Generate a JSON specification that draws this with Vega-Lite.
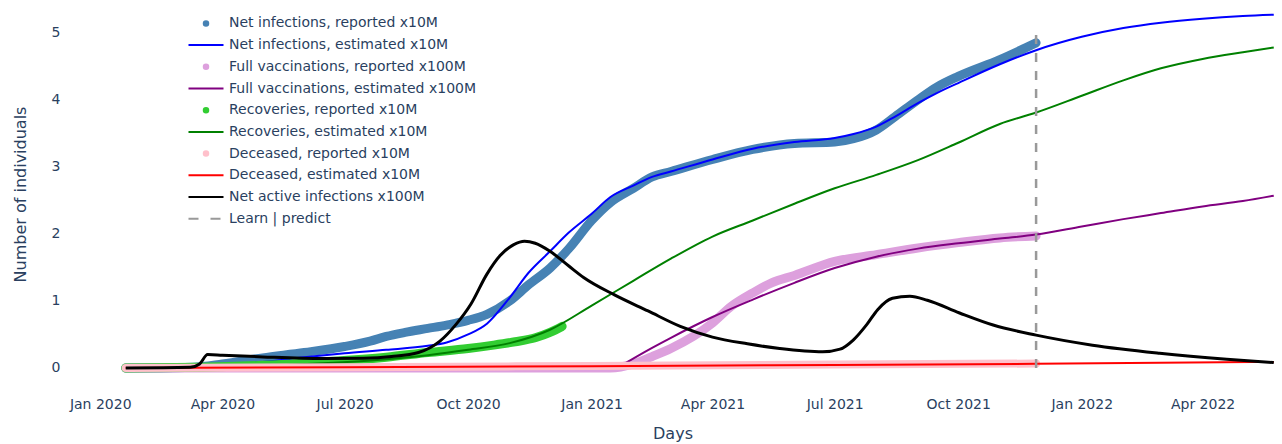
{
"$schema": "https://vega.github.io/schema/vega-lite/v6.json",
"width": 1209, "height": 368,
"autosize": {"type": "none"},
"padding": {"left": 68, "top": 10, "right": 5, "bottom": 66},
"background": "white",
"config": {"view": {"stroke": null}, "font": "DejaVu Sans"},
"data": {"values": [
{"s":"Net infections, reported x10M","d":"2020-01-20","v":0},
{"s":"Net infections, reported x10M","d":"2020-02-15","v":0},
{"s":"Net infections, reported x10M","d":"2020-03-10","v":0.01},
{"s":"Net infections, reported x10M","d":"2020-04-01","v":0.06},
{"s":"Net infections, reported x10M","d":"2020-05-01","v":0.15},
{"s":"Net infections, reported x10M","d":"2020-06-01","v":0.23},
{"s":"Net infections, reported x10M","d":"2020-07-01","v":0.32},
{"s":"Net infections, reported x10M","d":"2020-07-20","v":0.40},
{"s":"Net infections, reported x10M","d":"2020-08-01","v":0.47},
{"s":"Net infections, reported x10M","d":"2020-08-15","v":0.53},
{"s":"Net infections, reported x10M","d":"2020-09-01","v":0.59},
{"s":"Net infections, reported x10M","d":"2020-09-15","v":0.64},
{"s":"Net infections, reported x10M","d":"2020-10-01","v":0.71},
{"s":"Net infections, reported x10M","d":"2020-10-15","v":0.80},
{"s":"Net infections, reported x10M","d":"2020-11-01","v":1.0},
{"s":"Net infections, reported x10M","d":"2020-11-15","v":1.24},
{"s":"Net infections, reported x10M","d":"2020-12-01","v":1.49},
{"s":"Net infections, reported x10M","d":"2020-12-15","v":1.78},
{"s":"Net infections, reported x10M","d":"2021-01-01","v":2.2},
{"s":"Net infections, reported x10M","d":"2021-01-15","v":2.47},
{"s":"Net infections, reported x10M","d":"2021-02-01","v":2.68},
{"s":"Net infections, reported x10M","d":"2021-02-15","v":2.85},
{"s":"Net infections, reported x10M","d":"2021-03-01","v":2.93},
{"s":"Net infections, reported x10M","d":"2021-04-01","v":3.11},
{"s":"Net infections, reported x10M","d":"2021-05-01","v":3.26},
{"s":"Net infections, reported x10M","d":"2021-06-01","v":3.35},
{"s":"Net infections, reported x10M","d":"2021-07-01","v":3.37},
{"s":"Net infections, reported x10M","d":"2021-07-15","v":3.42},
{"s":"Net infections, reported x10M","d":"2021-08-01","v":3.55},
{"s":"Net infections, reported x10M","d":"2021-08-15","v":3.75},
{"s":"Net infections, reported x10M","d":"2021-09-01","v":4.0},
{"s":"Net infections, reported x10M","d":"2021-09-15","v":4.19},
{"s":"Net infections, reported x10M","d":"2021-10-01","v":4.35},
{"s":"Net infections, reported x10M","d":"2021-11-01","v":4.6},
{"s":"Net infections, reported x10M","d":"2021-11-28","v":4.85},
{"s":"Net infections, estimated x10M","d":"2020-01-20","v":0},
{"s":"Net infections, estimated x10M","d":"2020-03-01","v":0.01},
{"s":"Net infections, estimated x10M","d":"2020-04-01","v":0.05},
{"s":"Net infections, estimated x10M","d":"2020-05-01","v":0.09},
{"s":"Net infections, estimated x10M","d":"2020-06-01","v":0.16},
{"s":"Net infections, estimated x10M","d":"2020-07-01","v":0.22},
{"s":"Net infections, estimated x10M","d":"2020-08-01","v":0.27},
{"s":"Net infections, estimated x10M","d":"2020-09-01","v":0.33},
{"s":"Net infections, estimated x10M","d":"2020-09-15","v":0.38},
{"s":"Net infections, estimated x10M","d":"2020-10-01","v":0.5},
{"s":"Net infections, estimated x10M","d":"2020-10-15","v":0.66},
{"s":"Net infections, estimated x10M","d":"2020-11-01","v":1.05},
{"s":"Net infections, estimated x10M","d":"2020-11-15","v":1.42},
{"s":"Net infections, estimated x10M","d":"2020-12-01","v":1.74},
{"s":"Net infections, estimated x10M","d":"2020-12-15","v":2.02},
{"s":"Net infections, estimated x10M","d":"2021-01-01","v":2.3},
{"s":"Net infections, estimated x10M","d":"2021-01-15","v":2.55},
{"s":"Net infections, estimated x10M","d":"2021-02-01","v":2.72},
{"s":"Net infections, estimated x10M","d":"2021-02-15","v":2.85},
{"s":"Net infections, estimated x10M","d":"2021-03-01","v":2.93},
{"s":"Net infections, estimated x10M","d":"2021-04-01","v":3.11},
{"s":"Net infections, estimated x10M","d":"2021-05-01","v":3.27},
{"s":"Net infections, estimated x10M","d":"2021-06-01","v":3.37},
{"s":"Net infections, estimated x10M","d":"2021-07-01","v":3.43},
{"s":"Net infections, estimated x10M","d":"2021-07-15","v":3.49},
{"s":"Net infections, estimated x10M","d":"2021-08-01","v":3.6},
{"s":"Net infections, estimated x10M","d":"2021-08-15","v":3.75},
{"s":"Net infections, estimated x10M","d":"2021-09-01","v":3.95},
{"s":"Net infections, estimated x10M","d":"2021-09-15","v":4.1},
{"s":"Net infections, estimated x10M","d":"2021-10-01","v":4.25},
{"s":"Net infections, estimated x10M","d":"2021-11-01","v":4.53},
{"s":"Net infections, estimated x10M","d":"2021-11-28","v":4.74},
{"s":"Net infections, estimated x10M","d":"2022-01-01","v":4.94},
{"s":"Net infections, estimated x10M","d":"2022-02-01","v":5.07},
{"s":"Net infections, estimated x10M","d":"2022-03-01","v":5.15},
{"s":"Net infections, estimated x10M","d":"2022-04-01","v":5.21},
{"s":"Net infections, estimated x10M","d":"2022-05-01","v":5.25},
{"s":"Net infections, estimated x10M","d":"2022-05-24","v":5.27},
{"s":"Full vaccinations, reported x100M","d":"2020-01-20","v":0},
{"s":"Full vaccinations, reported x100M","d":"2020-12-15","v":0},
{"s":"Full vaccinations, reported x100M","d":"2021-01-15","v":0.0},
{"s":"Full vaccinations, reported x100M","d":"2021-02-01","v":0.06},
{"s":"Full vaccinations, reported x100M","d":"2021-02-15","v":0.17},
{"s":"Full vaccinations, reported x100M","d":"2021-03-01","v":0.29},
{"s":"Full vaccinations, reported x100M","d":"2021-04-01","v":0.67},
{"s":"Full vaccinations, reported x100M","d":"2021-04-15","v":0.92},
{"s":"Full vaccinations, reported x100M","d":"2021-05-01","v":1.12},
{"s":"Full vaccinations, reported x100M","d":"2021-05-15","v":1.27},
{"s":"Full vaccinations, reported x100M","d":"2021-06-01","v":1.38},
{"s":"Full vaccinations, reported x100M","d":"2021-07-01","v":1.59},
{"s":"Full vaccinations, reported x100M","d":"2021-08-01","v":1.69},
{"s":"Full vaccinations, reported x100M","d":"2021-09-01","v":1.79},
{"s":"Full vaccinations, reported x100M","d":"2021-10-01","v":1.87},
{"s":"Full vaccinations, reported x100M","d":"2021-11-01","v":1.94},
{"s":"Full vaccinations, reported x100M","d":"2021-11-28","v":1.97},
{"s":"Full vaccinations, estimated x100M","d":"2021-01-20","v":0},
{"s":"Full vaccinations, estimated x100M","d":"2021-02-15","v":0.3},
{"s":"Full vaccinations, estimated x100M","d":"2021-03-01","v":0.45},
{"s":"Full vaccinations, estimated x100M","d":"2021-04-01","v":0.76},
{"s":"Full vaccinations, estimated x100M","d":"2021-05-01","v":1.02},
{"s":"Full vaccinations, estimated x100M","d":"2021-06-01","v":1.27},
{"s":"Full vaccinations, estimated x100M","d":"2021-07-01","v":1.49},
{"s":"Full vaccinations, estimated x100M","d":"2021-08-01","v":1.66},
{"s":"Full vaccinations, estimated x100M","d":"2021-09-01","v":1.78},
{"s":"Full vaccinations, estimated x100M","d":"2021-10-01","v":1.86},
{"s":"Full vaccinations, estimated x100M","d":"2021-11-01","v":1.93},
{"s":"Full vaccinations, estimated x100M","d":"2021-11-28","v":1.99},
{"s":"Full vaccinations, estimated x100M","d":"2022-01-01","v":2.11},
{"s":"Full vaccinations, estimated x100M","d":"2022-02-01","v":2.22},
{"s":"Full vaccinations, estimated x100M","d":"2022-03-01","v":2.31},
{"s":"Full vaccinations, estimated x100M","d":"2022-04-01","v":2.41},
{"s":"Full vaccinations, estimated x100M","d":"2022-05-01","v":2.49},
{"s":"Full vaccinations, estimated x100M","d":"2022-05-24","v":2.57},
{"s":"Recoveries, reported x10M","d":"2020-01-20","v":0},
{"s":"Recoveries, reported x10M","d":"2020-03-15","v":0.01},
{"s":"Recoveries, reported x10M","d":"2020-05-01","v":0.04},
{"s":"Recoveries, reported x10M","d":"2020-06-15","v":0.09},
{"s":"Recoveries, reported x10M","d":"2020-08-01","v":0.16},
{"s":"Recoveries, reported x10M","d":"2020-09-01","v":0.23},
{"s":"Recoveries, reported x10M","d":"2020-10-01","v":0.29},
{"s":"Recoveries, reported x10M","d":"2020-10-20","v":0.34},
{"s":"Recoveries, reported x10M","d":"2020-11-05","v":0.39},
{"s":"Recoveries, reported x10M","d":"2020-11-20","v":0.45},
{"s":"Recoveries, reported x10M","d":"2020-12-01","v":0.53},
{"s":"Recoveries, reported x10M","d":"2020-12-10","v":0.62},
{"s":"Recoveries, estimated x10M","d":"2020-01-20","v":0},
{"s":"Recoveries, estimated x10M","d":"2020-03-15","v":0.01},
{"s":"Recoveries, estimated x10M","d":"2020-05-01","v":0.03},
{"s":"Recoveries, estimated x10M","d":"2020-06-15","v":0.07},
{"s":"Recoveries, estimated x10M","d":"2020-08-01","v":0.13},
{"s":"Recoveries, estimated x10M","d":"2020-09-01","v":0.19},
{"s":"Recoveries, estimated x10M","d":"2020-10-01","v":0.27},
{"s":"Recoveries, estimated x10M","d":"2020-11-01","v":0.37},
{"s":"Recoveries, estimated x10M","d":"2020-12-01","v":0.57},
{"s":"Recoveries, estimated x10M","d":"2021-01-01","v":0.93},
{"s":"Recoveries, estimated x10M","d":"2021-02-01","v":1.3},
{"s":"Recoveries, estimated x10M","d":"2021-03-01","v":1.63},
{"s":"Recoveries, estimated x10M","d":"2021-04-01","v":1.96},
{"s":"Recoveries, estimated x10M","d":"2021-05-01","v":2.2},
{"s":"Recoveries, estimated x10M","d":"2021-06-01","v":2.45},
{"s":"Recoveries, estimated x10M","d":"2021-07-01","v":2.68},
{"s":"Recoveries, estimated x10M","d":"2021-08-01","v":2.88},
{"s":"Recoveries, estimated x10M","d":"2021-09-01","v":3.1},
{"s":"Recoveries, estimated x10M","d":"2021-10-01","v":3.36},
{"s":"Recoveries, estimated x10M","d":"2021-11-01","v":3.64},
{"s":"Recoveries, estimated x10M","d":"2021-11-28","v":3.81},
{"s":"Recoveries, estimated x10M","d":"2022-01-01","v":4.06},
{"s":"Recoveries, estimated x10M","d":"2022-02-01","v":4.29},
{"s":"Recoveries, estimated x10M","d":"2022-03-01","v":4.47},
{"s":"Recoveries, estimated x10M","d":"2022-04-01","v":4.61},
{"s":"Recoveries, estimated x10M","d":"2022-05-01","v":4.71},
{"s":"Recoveries, estimated x10M","d":"2022-05-24","v":4.78},
{"s":"Deceased, reported x10M","d":"2020-01-20","v":0},
{"s":"Deceased, reported x10M","d":"2020-07-01","v":0.01},
{"s":"Deceased, reported x10M","d":"2021-01-01","v":0.03},
{"s":"Deceased, reported x10M","d":"2021-07-01","v":0.05},
{"s":"Deceased, reported x10M","d":"2021-11-28","v":0.066},
{"s":"Deceased, estimated x10M","d":"2020-01-20","v":0},
{"s":"Deceased, estimated x10M","d":"2020-07-01","v":0.01},
{"s":"Deceased, estimated x10M","d":"2021-01-01","v":0.025},
{"s":"Deceased, estimated x10M","d":"2021-07-01","v":0.045},
{"s":"Deceased, estimated x10M","d":"2021-11-28","v":0.062},
{"s":"Deceased, estimated x10M","d":"2022-05-24","v":0.09},
{"s":"Net active infections x100M","d":"2020-01-20","v":0},
{"s":"Net active infections x100M","d":"2020-03-08","v":0.01},
{"s":"Net active infections x100M","d":"2020-03-15","v":0.06},
{"s":"Net active infections x100M","d":"2020-03-21","v":0.2},
{"s":"Net active infections x100M","d":"2020-04-01","v":0.19},
{"s":"Net active infections x100M","d":"2020-05-01","v":0.165},
{"s":"Net active infections x100M","d":"2020-06-15","v":0.14},
{"s":"Net active infections x100M","d":"2020-07-15","v":0.145},
{"s":"Net active infections x100M","d":"2020-08-05","v":0.17},
{"s":"Net active infections x100M","d":"2020-08-25","v":0.23},
{"s":"Net active infections x100M","d":"2020-09-10","v":0.4},
{"s":"Net active infections x100M","d":"2020-09-22","v":0.65},
{"s":"Net active infections x100M","d":"2020-10-03","v":0.95},
{"s":"Net active infections x100M","d":"2020-10-15","v":1.4},
{"s":"Net active infections x100M","d":"2020-10-25","v":1.68},
{"s":"Net active infections x100M","d":"2020-11-04","v":1.84},
{"s":"Net active infections x100M","d":"2020-11-12","v":1.89},
{"s":"Net active infections x100M","d":"2020-11-20","v":1.86},
{"s":"Net active infections x100M","d":"2020-12-01","v":1.74},
{"s":"Net active infections x100M","d":"2020-12-15","v":1.52},
{"s":"Net active infections x100M","d":"2020-12-26","v":1.35},
{"s":"Net active infections x100M","d":"2021-01-18","v":1.09},
{"s":"Net active infections x100M","d":"2021-02-12","v":0.85},
{"s":"Net active infections x100M","d":"2021-03-08","v":0.62},
{"s":"Net active infections x100M","d":"2021-04-01","v":0.46},
{"s":"Net active infections x100M","d":"2021-04-27","v":0.36},
{"s":"Net active infections x100M","d":"2021-05-21","v":0.29},
{"s":"Net active infections x100M","d":"2021-06-22","v":0.24},
{"s":"Net active infections x100M","d":"2021-07-05","v":0.28},
{"s":"Net active infections x100M","d":"2021-07-15","v":0.42},
{"s":"Net active infections x100M","d":"2021-07-25","v":0.65},
{"s":"Net active infections x100M","d":"2021-08-02","v":0.87},
{"s":"Net active infections x100M","d":"2021-08-13","v":1.04},
{"s":"Net active infections x100M","d":"2021-08-26","v":1.07},
{"s":"Net active infections x100M","d":"2021-09-08","v":1.01},
{"s":"Net active infections x100M","d":"2021-10-02","v":0.82},
{"s":"Net active infections x100M","d":"2021-10-27","v":0.64},
{"s":"Net active infections x100M","d":"2021-11-28","v":0.49},
{"s":"Net active infections x100M","d":"2022-01-09","v":0.34},
{"s":"Net active infections x100M","d":"2022-02-28","v":0.22},
{"s":"Net active infections x100M","d":"2022-04-19","v":0.13},
{"s":"Net active infections x100M","d":"2022-05-24","v":0.08},
{"s":"Learn | predict","d":"2021-11-28","v":0},
{"s":"Learn | predict","d":"2021-11-28","v":5}
]},
"encoding": {
  "x": {"field": "d", "type": "temporal",
    "scale": {"domain": ["2019-12-08T00:00:00Z", "2022-05-26T10:00:00Z"]},
    "axis": {"title": "Days", "labelExpr": "utcFormat(datum.value, '%b %Y')", "domain": false, "ticks": false, "grid": false,
      "values": [1577836800000, 1585699200000, 1593561600000, 1601510400000, 1609459200000, 1617235200000, 1625097600000, 1633046400000, 1640995200000, 1648771200000],
      "labelFlush": false, "labelAlign": "center", "labelPadding": 19, "labelFontSize": 14, "labelColor": "#2a3f5f",
      "titleFontSize": 16, "titleFontWeight": "normal", "titleColor": "#2a3f5f", "titlePadding": 14}},
  "y": {"field": "v", "type": "quantitative",
    "scale": {"domain": [-0.15, 5.34], "nice": false, "zero": false},
    "axis": {"title": "Number of individuals", "values": [0,1,2,3,4,5], "domain": false, "ticks": false, "grid": false,
      "labelPadding": 8, "labelFontSize": 14, "labelColor": "#2a3f5f",
      "titleFontSize": 16, "titleFontWeight": "normal", "titleColor": "#2a3f5f", "titlePadding": 23}},
  "color": {"field": "s", "type": "nominal",
    "scale": {"domain": ["Net infections, reported x10M","Net infections, estimated x10M","Full vaccinations, reported x100M","Full vaccinations, estimated x100M","Recoveries, reported x10M","Recoveries, estimated x10M","Deceased, reported x10M","Deceased, estimated x10M","Net active infections x100M","Learn | predict"],
      "range": ["#4682b4","#0000ff","#dda0dd","#800080","#32cd32","#008000","#ffc0cb","#ff0000","#000000","#999999"]},
    "legend": {"title": null, "orient": "none", "legendX": 131, "legendY": 6.4, "padding": 0,
      "labelFontSize": 14, "labelColor": "#2a3f5f", "labelOffset": 16, "rowPadding": 7.7,
      "symbolSize": 100, "symbolType": "M-3.5,0H3.5", "symbolStrokeWidth": 2, "labelLimit": 400,
      "encode": {"symbols": {"update": {
        "shape": {"signal": "(datum.value === 'Learn | predict') ? 'M-3.5,0H-1.5M0.9,0H2.9' : ((indexof(datum.value, 'reported') >= 0) ? 'M-0.45,0A0.45,0.45 0 1,0 0.45,0A0.45,0.45 0 1,0 -0.45,0Z' : 'M-3.5,0H3.5')"},
        "fill": {"scale": "color", "field": "value"},
        "stroke": {"scale": "color", "field": "value"},
        "opacity": {"value": 1}}}}}}
},
"layer": [
  {"transform": [{"filter": {"field": "s", "equal": "Net infections, reported x10M"}}], "mark": {"type": "line", "strokeWidth": 9, "strokeCap": "round", "interpolate": "monotone"}},
  {"transform": [{"filter": {"field": "s", "equal": "Net infections, estimated x10M"}}], "mark": {"type": "line", "strokeWidth": 2, "interpolate": "monotone"}},
  {"transform": [{"filter": {"field": "s", "equal": "Full vaccinations, reported x100M"}}], "mark": {"type": "line", "strokeWidth": 9, "strokeCap": "round", "interpolate": "monotone"}},
  {"transform": [{"filter": {"field": "s", "equal": "Full vaccinations, estimated x100M"}}], "mark": {"type": "line", "strokeWidth": 2, "interpolate": "monotone"}},
  {"transform": [{"filter": {"field": "s", "equal": "Recoveries, reported x10M"}}], "mark": {"type": "line", "strokeWidth": 9, "strokeCap": "round", "interpolate": "monotone"}},
  {"transform": [{"filter": {"field": "s", "equal": "Recoveries, estimated x10M"}}], "mark": {"type": "line", "strokeWidth": 2, "interpolate": "monotone"}},
  {"transform": [{"filter": {"field": "s", "equal": "Deceased, reported x10M"}}], "mark": {"type": "line", "strokeWidth": 8, "strokeCap": "round", "interpolate": "monotone"}},
  {"transform": [{"filter": {"field": "s", "equal": "Deceased, estimated x10M"}}], "mark": {"type": "line", "strokeWidth": 2, "interpolate": "monotone"}},
  {"transform": [{"filter": {"field": "s", "equal": "Net active infections x100M"}}], "mark": {"type": "line", "strokeWidth": 3, "interpolate": "monotone"}},
  {"transform": [{"filter": {"field": "s", "equal": "Learn | predict"}}], "mark": {"type": "line", "strokeWidth": 2.5, "strokeDash": [9, 9], "interpolate": "linear"}}
]
}
